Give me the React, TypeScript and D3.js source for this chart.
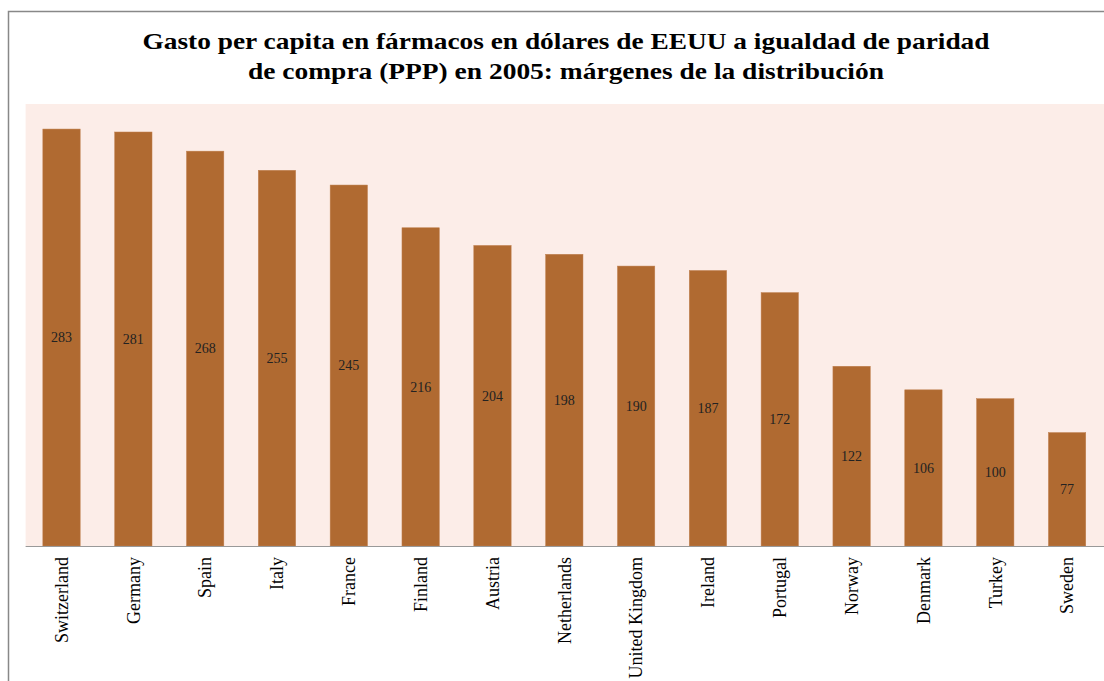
import React from "react";
import * as d3 from "d3";

const categories = ["Switzerland","Germany","Spain","Italy","France","Finland","Austria","Netherlands","United Kingdom","Ireland","Portugal","Norway","Denmark","Turkey","Sweden"];
const values = [283,281,268,255,245,216,204,198,190,187,172,122,106,100,77];
const titleLines = ["Gasto per capita en fármacos en dólares de EEUU a igualdad de paridad","de compra (PPP) en 2005: márgenes de la distribución"];
const titleWidths = [847, 636];

const W = 1104, H = 681;
const plot = { left: 25.6, right: 1103, top: 104, bottom: 546 };
const font = "'Liberation Serif', 'Times New Roman', serif";

export default function App() {
  const x = d3.scaleBand<string>().domain(categories).range([plot.left, plot.right]).paddingInner(0.48).paddingOuter(0.24);
  const y = d3.scaleLinear().domain([0, 300]).range([plot.bottom, plot.top]);
  return (
    <svg width={W} height={H} style={{ position: "absolute", left: 0, top: 0, background: "#fff" }}>
      <rect x={8.5} y={11.5} width={W + 10} height={H + 10} fill="#fff" stroke="#888" strokeWidth={1.5} />
      <rect x={plot.left} y={plot.top} width={W - plot.left} height={plot.bottom - plot.top} fill="#fcede8" />
      {titleLines.map((t, i) => (
        <text key={i} x={566} y={49 + i * 30} textAnchor="middle" fontFamily={font} fontWeight="bold" fontSize={24}
          textLength={titleWidths[i]} lengthAdjust="spacingAndGlyphs" fill="#000">{t}</text>
      ))}
      {categories.map((c, i) => {
        const bx = x(c)!;
        const by = y(values[i]);
        return (
          <g key={c}>
            <rect x={bx} y={by} width={x.bandwidth()} height={plot.bottom - by} fill="#b06a31" stroke="#c08050" strokeWidth={0.5} />
            <text x={bx + x.bandwidth() / 2} y={(by + plot.bottom) / 2} dy="0.35em" textAnchor="middle" fontFamily={font} fontSize={14} fill="#222">{values[i]}</text>
            <text transform={`translate(${bx + x.bandwidth() / 2},557) rotate(-90)`} dy="0.35em" textAnchor="end" fontFamily={font} fontSize={18} fill="#000">{c}</text>
          </g>
        );
      })}
      <line x1={plot.left} x2={W} y1={plot.bottom + 0.5} y2={plot.bottom + 0.5} stroke="#999" strokeWidth={1} />
    </svg>
  );
}
